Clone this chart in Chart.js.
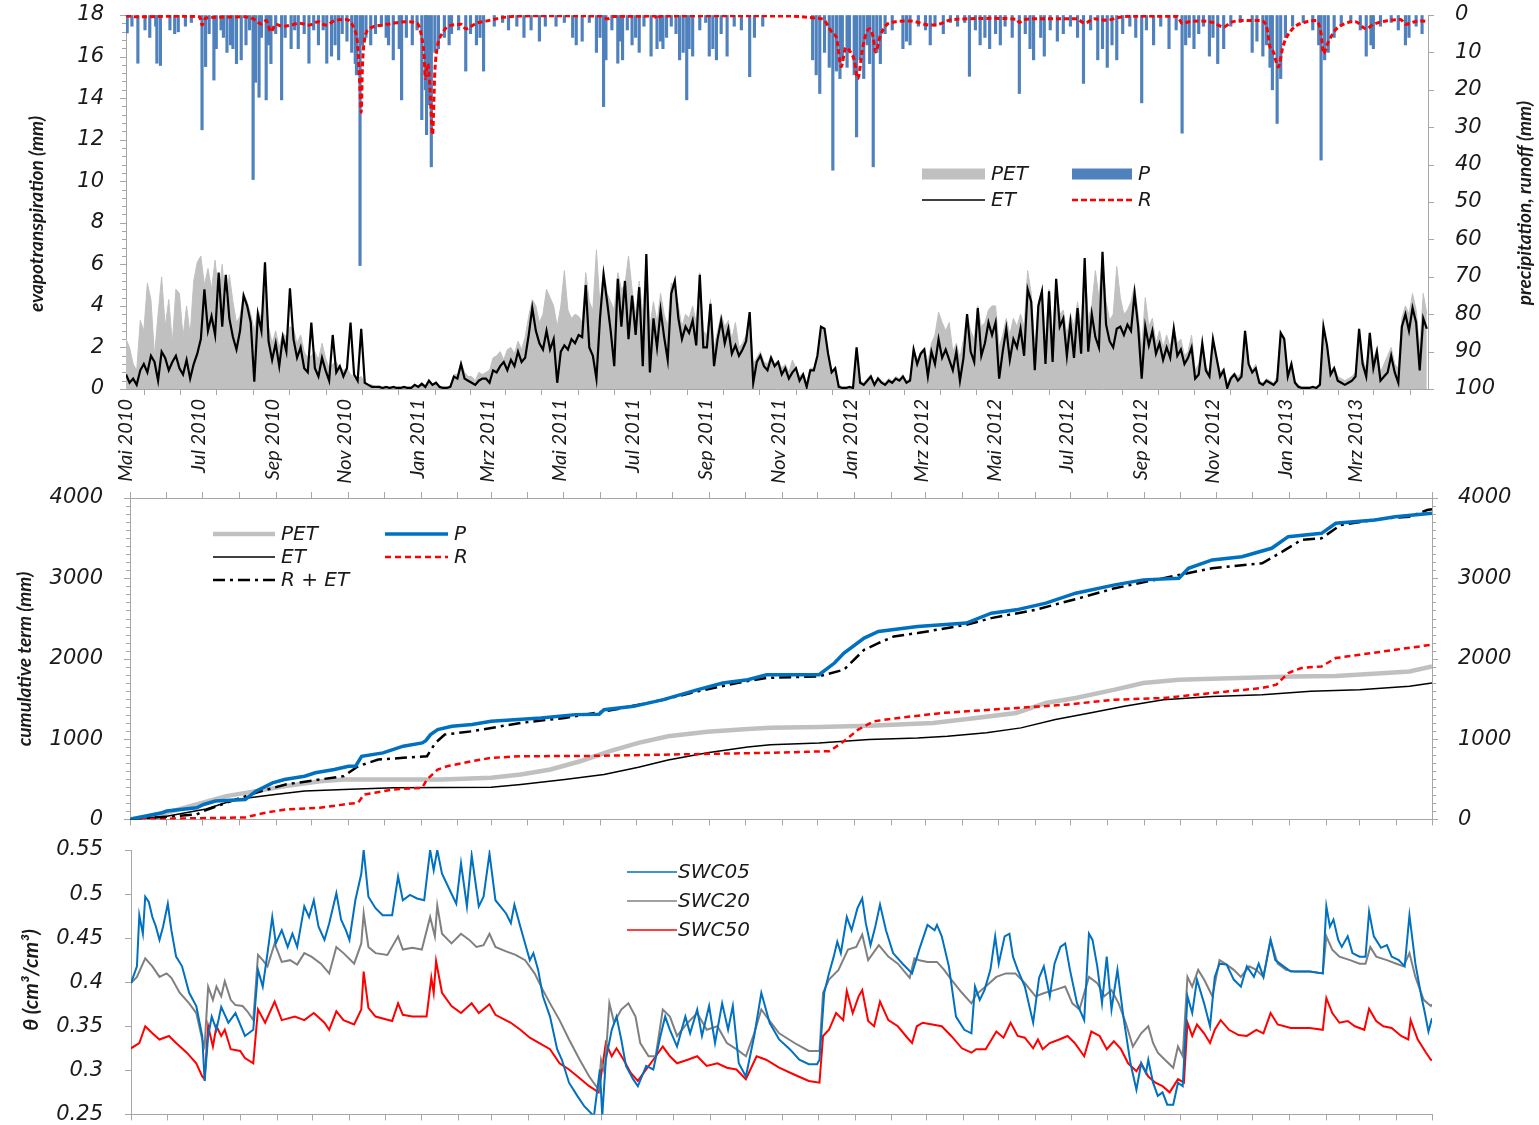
<!DOCTYPE html>
<html>
<head>
<meta charset="utf-8">
<title>Water balance 2010-2013</title>
<script src="https://cdn.jsdelivr.net/npm/chart.js@4.4.1/dist/chart.umd.min.js"></script>
<style>
  body { margin: 0; background: #fff; }
  #wrap { position: relative; width: 1539px; height: 1125px; overflow: hidden; }
  #wrap canvas { position: absolute; left: 0; }
</style>
</head>
<body>
<div id="wrap">
  <canvas id="c1" width="1539" height="490" style="top:0"></canvas>
  <canvas id="c2" width="1539" height="352" style="top:480px"></canvas>
  <canvas id="c3" width="1539" height="297" style="top:830px"></canvas>
</div>
<script>
// days counted from 1 May 2010
const monthDays = [0,31,61,92,123,153,184,214,245,276,304,335,365,396,426,457,488,518,549,579,
  610,641,670,701,731,762,792,823,854,884,915,945,976,1007,1035,1066,1096];
const monthLabels = ['Mai 2010','','Jul 2010','','Sep 2010','','Nov 2010','','Jan 2011','','Mrz 2011','',
  'Mai 2011','','Jul 2011','','Sep 2011','','Nov 2011','','Jan 2012','','Mrz 2012','',
  'Mai 2012','','Jul 2012','','Sep 2012','','Nov 2012','','Jan 2013','','Mrz 2013','',''];

// daily ET and PET (mm), one value every 3 days, one row per month
const etStep = 3;
const etMm = [
  0.7,0.3,0.5,0.2,0.9,1.2,0.8,1.6,1.3,0.4,
  1.8,1.5,0.9,1.3,1.6,1.0,0.7,1.4,0.5,1.2,
  1.7,2.4,4.8,2.8,3.5,2.6,5.6,3.0,5.5,3.4,2.5,
  1.9,2.8,4.5,4.0,3.2,0.35,3.6,2.8,6.1,2.3,
  1.4,2.2,1.1,2.5,1.8,4.85,2.4,1.5,2.0,1.0,
  0.8,3.2,1.0,0.6,1.5,0.9,0.4,2.6,0.8,1.1,
  0.6,1.0,3.2,0.7,0.4,2.9,0.3,0.2,0.1,0.1,
  0.1,0.05,0.1,0.05,0.1,0.05,0.05,0.1,0.05,0.05,0.2,
  0.1,0.25,0.1,0.4,0.2,0.3,0.1,0.05,0.05,0.1,
  0.6,0.5,1.2,0.5,0.4,0.3,0.2,0.4,0.5,
  0.5,0.3,0.9,0.8,1.1,1.3,0.9,1.4,1.1,1.8,1.3,
  1.5,2.6,3.9,2.8,2.2,1.9,2.8,1.9,2.4,0.3,
  1.8,2.1,1.9,2.4,2.2,2.6,2.5,5.0,2.0,1.6,
  0.5,3.4,5.5,4.2,2.8,1.1,5.3,3.0,5.2,2.4,
  4.5,2.6,4.9,1.1,6.5,0.8,3.4,2.0,3.8,2.5,1.4,
  4.6,5.2,3.4,2.4,3.0,2.7,3.3,2.1,5.5,2.0,
  2.0,4.1,1.1,2.4,3.3,2.2,2.9,1.7,2.1,1.6,
  1.9,2.3,3.7,0.3,1.3,1.6,1.1,0.9,1.5,1.1,
  1.3,0.7,1.0,0.5,0.8,1.0,0.4,0.7,0.1,0.9,
  0.9,1.6,3.0,2.9,1.7,0.8,1.0,0.1,0.05,0.05,0.1,
  0.05,2.0,0.3,0.2,0.4,0.6,0.2,0.5,0.3,0.2,
  0.4,0.3,0.5,0.4,0.6,0.3,0.4,1.9,1.2,1.7,
  1.9,0.6,1.8,1.2,2.4,1.5,1.9,1.4,0.9,1.8,
  0.4,1.5,3.6,1.8,1.3,3.9,1.6,2.2,3.2,2.6,
  3.2,0.5,1.8,2.9,1.4,2.4,2.0,2.9,1.6,4.8,
  4.2,0.9,4.0,4.7,1.2,4.7,1.3,5.3,3.0,3.4,
  1.6,3.2,1.5,3.9,1.7,6.3,1.8,3.6,2.5,2.0,6.6,
  3.1,2.3,2.0,2.9,3.0,2.6,3.1,2.8,4.6,3.0,
  0.5,3.0,2.1,2.8,1.7,2.2,1.4,2.0,1.5,2.9,
  1.6,1.9,1.2,1.5,2.0,0.5,0.7,2.2,0.9,0.6,
  2.4,1.5,0.6,0.9,0.05,0.5,0.7,0.4,0.6,2.8,
  1.2,0.8,1.0,0.3,0.2,0.4,0.3,0.2,0.4,2.7,2.4,
  0.6,1.2,0.3,0.1,0.05,0.05,0.05,0.1,0.05,0.2,
  3.0,2.1,0.7,1.0,0.4,0.3,0.2,0.3,0.4,
  0.6,2.9,1.2,0.6,2.7,1.0,1.8,0.4,0.6,0.8,1.6,
  0.8,0.3,3.0,3.6,2.8,3.9,3.2,0.9,3.4,2.9
];
const petMm = [
  2.4,2.0,1.2,0.9,3.3,2.8,5.1,4.3,1.6,3.6,
  5.4,3.0,4.3,2.2,4.8,4.6,2.5,4.0,2.6,5.2,
  6.1,6.4,5.0,5.8,4.8,6.2,4.5,6.0,3.9,5.5,4.2,
  3.2,3.5,4.6,4.2,3.6,2.8,3.8,3.4,4.8,3.0,
  2.2,2.8,2.0,2.7,2.5,3.0,2.9,2.2,2.6,1.8,
  1.5,1.6,1.8,1.4,2.2,1.5,1.0,1.2,1.3,1.0,
  0.9,1.0,0.7,0.6,0.5,0.6,0.3,0.2,0.2,0.1,
  0.15,0.1,0.1,0.1,0.1,0.1,0.1,0.1,0.1,0.1,0.2,
  0.15,0.3,0.15,0.45,0.25,0.35,0.15,0.1,0.1,0.15,
  0.7,0.7,1.3,0.8,0.6,0.6,0.4,0.8,0.7,
  0.8,0.9,1.5,1.6,1.8,1.4,1.9,2.0,1.7,2.3,1.9,
  2.5,3.5,4.3,4.0,3.2,3.6,4.8,4.4,4.0,3.0,
  4.0,5.7,3.8,3.4,3.6,3.5,3.2,5.6,4.2,3.8,
  6.7,4.0,5.8,4.6,4.2,3.8,5.6,4.8,5.0,6.4,
  4.8,3.6,5.2,3.6,6.3,3.0,4.2,3.2,4.6,3.6,3.0,
  5.1,5.0,4.0,3.0,3.6,3.4,4.0,3.2,5.6,2.8,
  2.6,4.3,2.0,2.8,3.6,3.0,3.3,2.4,3.2,2.0,
  2.2,2.6,3.7,1.2,1.5,1.8,1.3,1.2,1.6,1.2,
  1.4,1.0,1.2,0.8,1.4,1.0,0.6,0.8,0.3,1.0,
  1.0,1.6,3.0,2.9,1.7,0.9,1.0,0.2,0.1,0.1,0.1,
  0.1,2.0,0.4,0.3,0.5,0.7,0.3,0.6,0.4,0.3,
  0.5,0.4,0.6,0.5,0.7,0.4,0.5,2.0,1.4,1.8,
  2.0,1.3,2.2,2.6,3.7,3.2,2.8,3.2,1.8,2.2,
  1.5,2.4,3.6,2.8,2.4,4.0,3.0,3.2,3.8,4.0,
  4.0,2.0,2.6,3.4,2.6,3.4,3.0,3.6,3.0,5.7,
  4.6,2.0,4.2,4.8,2.4,4.8,2.6,5.3,3.6,3.8,
  2.6,3.6,3.0,4.2,3.0,6.0,3.4,4.0,5.7,4.4,6.4,
  4.2,3.3,3.6,5.9,4.4,3.6,3.8,4.2,5.0,3.6,
  2.0,4.4,3.0,3.4,2.2,2.8,2.0,2.6,2.0,3.0,
  2.2,2.4,1.6,1.8,2.6,0.9,1.2,2.3,1.1,0.8,
  2.4,1.6,0.8,1.0,0.3,0.6,0.8,0.6,0.8,2.8,
  1.3,0.9,1.2,0.4,0.3,0.5,0.4,0.3,0.6,2.7,2.5,
  0.7,1.3,0.4,0.2,0.1,0.1,0.1,0.1,0.1,0.3,
  3.0,2.2,0.8,1.1,0.6,0.5,0.4,0.5,0.6,
  0.8,2.9,1.4,1.0,2.7,1.4,2.0,0.8,1.2,1.6,2.0,
  1.2,1.0,3.4,4.0,3.6,4.6,3.8,2.0,4.6,3.6
];

// precipitation on rain days (day, mm)
const pDay = [1,5,10,16,20,25,26,29,37,41,44,50,55,64,67,70,74,76,80,82,
  85,88,90,93,97,101,104,107,109,112,114,118,120,122,126,131,134,139,142,145,
  150,154,158,162,166,169,173,176,179,182,186,190,193,194,197,199,202,206,210,215,
  219,221,225,230,232,236,241,245,249,252,253,255,257,260,263,268,272,274,280,286,
  290,295,298,301,310,317,322,329,335,341,348,353,362,369,376,379,384,390,396,399,
  402,404,409,414,416,418,422,426,429,432,436,442,447,450,452,455,459,463,466,469,
  472,474,477,483,488,491,494,497,501,506,512,518,525,529,536,578,581,584,588,592,
  595,598,601,603,607,609,613,615,618,621,624,626,629,632,635,639,645,654,657,660,
  667,673,677,681,688,694,700,706,710,715,719,723,727,732,736,740,746,752,757,761,
  764,770,773,778,784,789,795,801,806,812,818,822,826,830,834,839,845,850,855,859,
  865,871,878,884,889,892,895,899,903,907,912,915,919,924,930,938,948,952,957,960,
  963,965,969,972,976,982,991,999,1004,1006,1009,1012,1017,1023,1031,1039,1044,1048,1050,1056,
  1065,1071,1077,1080,1086,1091];
const pMm = [4.8,3,12.9,4,6,3,12.9,13.5,4,5,4.5,3,2,30.7,13.8,5,17.4,9,4,6,
  10,8,9,13,12,8,4,44,18,22,6,22.7,8,13,5,22.7,6,9,4,9,
  5,12.9,4,8,4,12.9,11,8,12,5,7,10,13,16,67,8,6,8,5,3,
  6,8,12,9,22.7,6,8,4,28,20,32,24,40.6,10,9,6,8,5,4,15,
  5,8,6,15,3,2,4,3,6,4,7,3,3,2,6,8,7,2,10,6,
  24.5,12,4,12.9,7,12,4,8,6,10,3,11,9,7,9,6,3,5,12,10,
  22.7,9,11,4,2,11,9,12,5,11,3,4,16.5,6,3,12,16,21,10,14,
  41.5,15,17,12,14,10,16,32.6,12,17,8,13,40.6,10,13,5,4,9,7,8,
  3,4,8,3,5,2,3,2,16.4,4,8,6,9,5,8,3,6,21,5,9,
  12,6,11,4,7,5,3,6,18.3,4,12,9,14,8,12,5,3,6,23.5,4,
  8,3,9,4,31.6,8,6,9,5,3,11,6,13,9,3,2,10,7,11,8,
  14,20,29,17,6,3,2,4,8,38.8,12,10,6,3,2,4,11,8,9,3,
  2,4,8,6,3,5];

// runoff (day, mm)
const rDay = [0,10,40,62,64,67,100,107,114,118,122,126,132,140,146,154,162,168,176,185,
  192,195,197,198,199,201,205,216,225,235,245,249,251,252,254,256,258,260,262,266,
  274,282,286,295,305,315,330,360,400,405,410,445,447,450,500,560,580,587,592,595,
  598,602,606,610,613,616,620,623,626,629,631,635,640,648,660,677,685,693,710,730,
  750,752,756,770,800,807,815,825,840,860,885,889,895,905,915,924,930,940,955,960,
  963,966,970,974,982,994,1002,1006,1008,1012,1018,1027,1035,1044,1050,1062,1073,1077,1085,1091,1096];
const rMm = [0.2,0.5,0.3,0.5,2.7,0.8,0.5,1.0,2.4,1.5,4.5,2.5,3.0,2.6,2.2,2.7,1.8,2.7,1.5,1.2,
  3.7,8,20,26,14,6.3,3.7,2.7,2.2,1.8,2.2,6,11,17,13,20,32,15,8.7,5,
  2.7,2.5,3.7,2.2,1.5,0.8,0.3,0.2,0.3,1.0,0.4,0.3,1.0,0.3,0.2,0.3,0.8,1.2,3.5,5,
  6,13.8,8.7,10,12,17,9,5,3.7,6,9.9,5.5,2.7,1.8,1.6,2.7,2.4,1.4,1.0,0.9,
  1.2,2,1.2,1.0,1.0,2.2,1.0,1.4,0.4,0.3,0.4,2.2,1.8,1.6,2.0,3.2,2.0,1.5,1.5,3,
  8.5,10,13.9,8.3,3.7,1.8,1.5,5,10.3,7.3,4,2.2,1.8,3.7,2.5,1.5,1.2,2.5,1.8,1.6,1.8];

// cumulative terms (mm)
const cumPetDay = [0,31,56,81,106,131,160,180,263,304,329,354,379,404,428,453,486,520,539,580,
  622,676,712,746,771,796,829,853,883,933,978,1015,1057,1077,1096];
const cumPet = [0,83,186,290,352,414,476,497,497,518,559,621,724,849,952,1035,1090,1125,1140,1150,
  1165,1201,1263,1325,1449,1511,1615,1698,1739,1760,1780,1785,1822,1842,1904];
const cumEtDay = [0,31,64,89,122,147,180,222,304,329,366,399,428,453,486,520,539,580,622,663,
  688,721,750,779,808,837,870,911,953,994,1035,1077,1096];
const cumEt = [0,40,130,248,310,352,373,393,400,435,497,560,650,740,830,900,930,952,994,1014,
  1035,1077,1139,1242,1325,1407,1490,1531,1552,1594,1615,1656,1698];
const cumPDay = [0,27,31,56,62,72,97,106,120,130,147,156,172,184,190,195,213,230,246,249,
  253,259,271,288,304,346,375,395,399,424,449,478,499,520,536,580,593,601,618,630,
  663,704,725,746,771,796,829,853,883,891,911,936,961,975,1003,1015,1048,1065,1096];
const cumP = [0,83,104,145,186,228,248,352,455,497,538,580,621,662,665,786,828,911,952,980,
  1056,1118,1159,1180,1221,1263,1304,1310,1366,1407,1490,1615,1698,1739,1801,1801,1946,2070,2257,2339,
  2401,2443,2567,2608,2691,2815,2919,2981,3002,3126,3229,3270,3374,3519,3560,3685,3726,3767,3809];
const cumRDay = [0,97,114,131,160,180,192,197,206,222,246,250,259,267,288,304,329,387,536,589,
  601,613,626,647,684,725,788,829,870,911,953,965,975,986,1003,1015,1035,1065,1096];
const cumR = [0,25,83,124,145,186,207,310,331,373,393,497,621,662,724,766,786,790,828,849,
  973,1118,1221,1263,1325,1366,1428,1490,1511,1573,1635,1677,1822,1884,1904,2008,2049,2111,2174];
const cumREtDay = [0,56,62,81,106,131,160,180,192,209,230,250,257,265,288,329,366,408,449,478,
  511,536,580,601,618,630,643,663,704,725,762,804,829,870,911,953,970,986,1003,1019,
  1057,1077,1092,1096];
const cumREt = [0,62,104,207,331,435,497,538,662,745,766,786,952,1056,1097,1201,1263,1366,1490,1594,
  1698,1760,1780,1863,2111,2194,2277,2319,2422,2505,2608,2773,2878,3002,3126,3188,3332,3478,3498,3664,
  3747,3767,3850,3860];

// soil water content (day, cm3/cm3) at 5, 20 and 50 cm
const swc05 = [[0,.399],[5,.418],[7,.476],[10,.455],[12,.497],[15,.491],[18,.474],[21,.463],[24,.448],[27,.463],
  [31,.489],[34,.459],[38,.429],[43,.418],[49,.388],[55,.373],[60,.339],[62,.288],[65,.339],[68,.361],
  [72,.346],[76,.372],[82,.354],[88,.365],[96,.339],[103,.346],[107,.414],[111,.395],[115,.433],[119,.474],
  [122,.444],[127,.459],[132,.44],[136,.455],[140,.44],[146,.486],[150,.474],[154,.493],[158,.463],[163,.448],
  [167,.467],[173,.501],[177,.471],[181,.459],[184,.448],[189,.493],[194,.523],[196,.55],[200,.497],[206,.484],
  [212,.476],[220,.476],[225,.52],[229,.493],[235,.499],[241,.495],[247,.493],[252,.55],[255,.527],[258,.55],
  [262,.523],[268,.506],[274,.489],[278,.535],[283,.486],[287,.544],[293,.486],[297,.497],[302,.546],[307,.493],
  [316,.478],[320,.467],[323,.488],[328,.463],[332,.444],[336,.425],[339,.433],[343,.414],[347,.384],[353,.361],
  [359,.324],[363,.312],[369,.286],[376,.271],[382,.259],[390,.248],[395,.301],[397,.248],[400,.312],[405,.346],
  [409,.361],[413,.335],[417,.305],[423,.29],[427,.282],[434,.305],[440,.301],[446,.339],[450,.361],[454,.346],
  [460,.327],[467,.361],[471,.342],[477,.369],[481,.339],[487,.373],[492,.331],[498,.376],[503,.346],[507,.373],
  [512,.308],[518,.293],[525,.339],[531,.388],[538,.354],[546,.335],[555,.324],[563,.312],[571,.307],[578,.307],
  [580,.312],[584,.388],[588,.41],[592,.429],[595,.446],[598,.433],[603,.474],[607,.459],[612,.484],[616,.495],
  [619,.467],[623,.442],[627,.463],[631,.488],[636,.459],[642,.433],[650,.421],[658,.41],[664,.437],[671,.465],
  [677,.459],[679,.465],[683,.452],[689,.418],[695,.361],[702,.346],[708,.342],[711,.395],[715,.38],[719,.391],
  [724,.414],[728,.452],[731,.421],[736,.452],[740,.455],[743,.429],[747,.414],[753,.395],[760,.354],[765,.405],
  [769,.418],[774,.384],[778,.421],[783,.44],[787,.444],[791,.414],[797,.376],[803,.357],[807,.455],[810,.448],
  [814,.418],[818,.376],[822,.429],[826,.369],[831,.414],[836,.361],[842,.308],[847,.278],[851,.308],[855,.297],
  [857,.312],[861,.286],[865,.271],[869,.275],[873,.261],[878,.261],[882,.286],[886,.282],[890,.384],[894,.365],
  [898,.403],[904,.376],[909,.35],[913,.406],[917,.421],[923,.42],[929,.403],[935,.395],[940,.418],[946,.406],
  [950,.421],[954,.406],[960,.448],[964,.425],[971,.418],[977,.412],[985,.412],[993,.412],[1004,.41],[1007,.486],
  [1010,.463],[1013,.471],[1017,.448],[1020,.44],[1025,.452],[1029,.433],[1035,.429],[1040,.429],[1043,.48],[1047,.452],
  [1053,.439],[1058,.442],[1062,.429],[1068,.425],[1073,.418],[1077,.476],[1082,.421],[1087,.384],[1090,.365],[1093,.344],
  [1096,.359]];
const swc20 = [[0,.399],[5,.406],[10,.421],[12,.427],[18,.418],[24,.406],[30,.41],[34,.405],[41,.388],[49,.376],
  [55,.365],[60,.335],[62,.327],[65,.395],[69,.38],[72,.395],[76,.384],[79,.401],[84,.38],[88,.374],
  [94,.373],[98,.367],[103,.357],[107,.431],[111,.425],[115,.418],[121,.444],[127,.423],[134,.425],[140,.42],
  [146,.433],[152,.429],[160,.421],[167,.41],[173,.44],[179,.433],[188,.421],[194,.444],[196,.478],[200,.44],
  [206,.433],[216,.431],[225,.452],[229,.437],[237,.439],[245,.437],[252,.474],[256,.452],[258,.487],[262,.455],
  [270,.444],[278,.455],[285,.448],[291,.44],[297,.442],[302,.455],[307,.44],[316,.435],[324,.431],[332,.425],
  [340,.41],[347,.391],[353,.376],[361,.357],[369,.335],[378,.312],[386,.293],[394,.278],[396,.312],[399,.297],
  [403,.376],[407,.354],[413,.369],[419,.376],[425,.361],[429,.331],[436,.316],[442,.316],[448,.369],[454,.361],
  [460,.339],[469,.354],[477,.365],[485,.346],[494,.35],[502,.331],[510,.324],[518,.316],[525,.342],[531,.369],
  [538,.356],[546,.342],[559,.331],[571,.322],[580,.322],[583,.388],[588,.403],[596,.414],[604,.437],[611,.44],
  [616,.454],[621,.425],[630,.442],[638,.429],[646,.421],[656,.405],[660,.427],[664,.425],[671,.423],[679,.423],
  [685,.414],[691,.403],[700,.388],[708,.376],[712,.386],[720,.395],[729,.406],[737,.41],[745,.41],[753,.399],
  [762,.384],[770,.388],[778,.391],[787,.395],[793,.376],[799,.369],[807,.406],[814,.399],[820,.384],[826,.391],
  [832,.376],[838,.354],[844,.327],[851,.342],[857,.35],[861,.331],[865,.32],[871,.312],[878,.303],[882,.327],
  [886,.316],[890,.406],[894,.395],[899,.414],[904,.403],[911,.384],[917,.425],[923,.42],[929,.414],[935,.406],
  [942,.418],[948,.414],[954,.406],[960,.448],[966,.421],[973,.414],[981,.412],[993,.412],[1004,.41],[1007,.452],
  [1012,.437],[1018,.429],[1027,.425],[1035,.421],[1040,.421],[1044,.44],[1049,.429],[1058,.425],[1066,.421],[1072,.418],
  [1077,.433],[1082,.406],[1089,.38],[1095,.373],[1096,.375]];
const swc50 = [[0,.325],[7,.331],[12,.35],[18,.342],[24,.335],[32,.339],[38,.331],[47,.32],[55,.308],[60,.293],
  [62,.29],[65,.35],[69,.327],[72,.35],[76,.339],[79,.346],[84,.324],[92,.322],[96,.314],[103,.308],
  [107,.369],[113,.354],[121,.378],[127,.357],[138,.361],[146,.357],[154,.365],[163,.354],[167,.346],[173,.367],
  [179,.357],[188,.352],[194,.369],[196,.412],[200,.371],[206,.361],[220,.356],[225,.376],[229,.363],[237,.361],
  [249,.361],[253,.405],[255,.388],[257,.424],[262,.388],[270,.373],[278,.365],[287,.376],[293,.365],[302,.375],
  [307,.363],[320,.354],[328,.346],[336,.337],[344,.331],[353,.324],[361,.308],[369,.301],[378,.291],[386,.282],
  [394,.275],[400,.331],[405,.316],[409,.325],[415,.312],[421,.297],[427,.288],[434,.301],[440,.312],[448,.327],
  [454,.316],[460,.308],[469,.312],[477,.316],[485,.305],[494,.308],[502,.303],[510,.301],[518,.29],[527,.316],
  [535,.312],[546,.303],[559,.295],[571,.288],[580,.286],[583,.339],[588,.346],[594,.365],[600,.357],[603,.39],
  [608,.365],[613,.384],[616,.391],[621,.356],[626,.35],[631,.378],[638,.357],[646,.35],[654,.337],[658,.331],
  [662,.35],[667,.354],[675,.352],[683,.35],[691,.339],[700,.325],[708,.32],[712,.324],[720,.324],[729,.344],
  [735,.337],[741,.354],[747,.339],[753,.337],[760,.325],[764,.335],[768,.324],[774,.331],[782,.335],[789,.339],
  [795,.331],[803,.316],[809,.344],[816,.339],[822,.324],[828,.333],[834,.324],[840,.308],[847,.299],[851,.308],
  [857,.293],[863,.286],[869,.282],[875,.275],[882,.29],[887,.286],[890,.354],[894,.339],[898,.352],[904,.342],
  [909,.331],[913,.346],[918,.357],[925,.346],[933,.34],[940,.339],[948,.346],[954,.342],[960,.365],[966,.352],
  [977,.348],[993,.348],[1004,.346],[1007,.382],[1012,.365],[1018,.354],[1025,.356],[1031,.35],[1039,.346],[1043,.37],
  [1049,.356],[1055,.35],[1062,.348],[1070,.339],[1076,.335],[1078,.357],[1084,.335],[1091,.32],[1095,.312],[1096,.312]];

const AXIS = '#a6a6a6';
const INK = '#1a1a1a';
const tickFont = { family: "'DejaVu Sans', sans-serif", size: 21, style: 'italic' };
const dateFont = { family: "Lato, sans-serif", size: 20, style: 'italic' };
const legendFont = "italic 20px 'DejaVu Sans', sans-serif";

Chart.defaults.color = INK;
Chart.defaults.font.family = "'DejaVu Sans', sans-serif";

const xy = (days, vals) => days.map((d, i) => ({ x: d, y: vals[i] }));
const pairs = arr => arr.map(p => ({ x: p[0], y: p[1] }));

// tick marks on the value axes, legend entries and axis titles
const decor = {
  id: 'decor',
  afterDraw(chart, args, o) {
    const ctx = chart.ctx;
    ctx.save();
    ctx.strokeStyle = AXIS;
    ctx.lineWidth = 1;
    const mark = (s, v, len) => {
      const left = s.position === 'left';
      const x0 = left ? s.right : s.left;
      const y = Math.round(s.getPixelForValue(v)) + 0.5;
      ctx.beginPath();
      ctx.moveTo(x0, y);
      ctx.lineTo(x0 + (left ? -len : len), y);
      ctx.stroke();
    };
    (o.axes || []).forEach(a => {
      const s = chart.scales[a.axis];
      s.ticks.forEach(t => mark(s, t.value, 6));
      if (a.minor) {
        const n = Math.round((s.max - s.min) / a.minor);
        for (let k = 0; k <= n; k++) mark(s, s.min + k * a.minor, 4);
      }
    });
    (o.legend || []).forEach(it => {
      if (it.box) {
        ctx.fillStyle = it.color;
        ctx.fillRect(it.x, it.y - it.box / 2, it.w, it.box);
      } else {
        ctx.strokeStyle = it.color;
        ctx.lineWidth = it.width;
        ctx.setLineDash(it.dash || []);
        ctx.beginPath();
        ctx.moveTo(it.x, it.y);
        ctx.lineTo(it.x + it.w, it.y);
        ctx.stroke();
        ctx.setLineDash([]);
      }
      ctx.fillStyle = INK;
      ctx.font = legendFont;
      ctx.textAlign = 'left';
      ctx.textBaseline = 'middle';
      ctx.fillText(it.text, it.x + it.w + (it.gap || 6), it.y + 1);
    });
    (o.titles || []).forEach(t => {
      ctx.save();
      ctx.translate(t.x, t.y);
      ctx.rotate(-Math.PI / 2);
      ctx.font = t.font;
      ctx.fillStyle = INK;
      ctx.textAlign = 'center';
      ctx.textBaseline = 'middle';
      ctx.fillText(t.text, 0, 0);
      ctx.restore();
    });
    ctx.restore();
  }
};

function monthAxis(position, showLabels, height) {
  return {
    type: 'linear', position: position, min: 0, max: 1096, offset: false,
    afterBuildTicks: s => { s.ticks = monthDays.map(v => ({ value: v })); },
    afterFit: s => { s.height = height; },
    grid: { display: true, drawOnChartArea: false, drawTicks: true, tickLength: 6, color: AXIS },
    border: { display: true, color: AXIS, width: 1 },
    ticks: {
      display: showLabels, autoSkip: false, maxRotation: 90, minRotation: 90,
      font: dateFont, padding: 4, color: INK,
      callback: (v, i) => monthLabels[i]
    }
  };
}

// the label gap is held by an invisible tick so the plot area keeps its height
function valueAxis(position, min, max, step, width, gap, extra) {
  return Object.assign({
    type: 'linear', position: position, min: min, max: max,
    afterFit: s => { s.width = width; },
    grid: { display: true, drawOnChartArea: false, drawTicks: true, tickLength: gap, tickColor: 'rgba(0,0,0,0)' },
    border: { display: true, color: AXIS, width: 1 },
    ticks: { stepSize: step, font: tickFont, padding: 0, color: INK, callback: v => String(+v.toFixed(2)) }
  }, extra || {});
}

const common = {
  responsive: false,
  animation: false,
  events: [],
  plugins: { legend: { display: false }, tooltip: { enabled: false } }
};

// daily balance: ET / PET on the left, precipitation and runoff hanging from the top
new Chart(document.getElementById('c1'), {
  type: 'line',
  data: {
    datasets: [
      { label: 'P', type: 'bar', yAxisID: 'yP', data: xy(pDay, pMm),
        backgroundColor: '#4f81bd', barThickness: 2.5, order: 4 },
      { label: 'R', yAxisID: 'yP', data: xy(rDay, rMm), borderColor: '#ff0000', borderWidth: 3,
        borderDash: [5, 3], pointRadius: 0, cubicInterpolationMode: 'monotone', order: 1 },
      { label: 'PET', yAxisID: 'y', data: petMm.map((v, i) => ({ x: i * etStep, y: v })),
        borderColor: '#c0c0c0', backgroundColor: '#c0c0c0', borderWidth: 1, fill: 'origin',
        pointRadius: 0, order: 3 },
      { label: 'ET', yAxisID: 'y', data: etMm.map((v, i) => ({ x: i * etStep, y: v })),
        borderColor: '#000', borderWidth: 2.2, pointRadius: 0, order: 2 }
    ]
  },
  options: Object.assign({}, common, {
    layout: { padding: { top: 15, left: 0, right: 0, bottom: 0 } },
    plugins: Object.assign({}, common.plugins, {
      decor: {
        axes: [{ axis: 'y', minor: 0.4 }, { axis: 'yP' }],
        legend: [
          { text: 'PET', color: '#c0c0c0', x: 922, y: 174, w: 63, box: 11 },
          { text: 'P', color: '#4f81bd', x: 1072, y: 174, w: 60, box: 11 },
          { text: 'ET', color: '#000', x: 922, y: 200, w: 63, width: 1.5 },
          { text: 'R', color: '#ff0000', x: 1072, y: 200, w: 60, width: 2.5, dash: [6, 3] }
        ],
        titles: [
          { text: 'evapotranspiration (mm)', x: 37, y: 214, font: "italic bold 19px Lato, sans-serif" },
          { text: 'precipitation, runoff (mm)', x: 1525, y: 203, font: "italic bold 19px Lato, sans-serif" }
        ]
      }
    }),
    scales: {
      x: monthAxis('bottom', true, 101),
      y: valueAxis('left', 0, 18, 2, 126, 22),
      yP: valueAxis('right', 0, 100, 10, 111, 27, { reverse: true })
    }
  }),
  plugins: [decor]
});

// cumulative terms
new Chart(document.getElementById('c2'), {
  type: 'line',
  data: {
    datasets: [
      { label: 'PET', data: xy(cumPetDay, cumPet), borderColor: '#c0c0c0', borderWidth: 4.5, pointRadius: 0, order: 5 },
      { label: 'ET', data: xy(cumEtDay, cumEt), borderColor: '#000', borderWidth: 1.5, pointRadius: 0, order: 4 },
      { label: 'R', data: xy(cumRDay, cumR), borderColor: '#ff0000', borderWidth: 2.5, borderDash: [6, 4],
        pointRadius: 0, order: 3 },
      { label: 'R + ET', data: xy(cumREtDay, cumREt), borderColor: '#000', borderWidth: 2.5,
        borderDash: [12, 5, 3, 5], pointRadius: 0, order: 2 },
      { label: 'P', data: xy(cumPDay, cumP), borderColor: '#0070c0', borderWidth: 3.5, pointRadius: 0, order: 1 }
    ]
  },
  options: Object.assign({}, common, {
    layout: { padding: 0 },
    plugins: Object.assign({}, common.plugins, {
      decor: {
        axes: [{ axis: 'y', minor: 100 }, { axis: 'y2', minor: 100 }],
        legend: [
          { text: 'PET', color: '#c0c0c0', x: 213, y: 54, w: 62, width: 4.5 },
          { text: 'P', color: '#0070c0', x: 385, y: 54, w: 63, width: 3.5 },
          { text: 'ET', color: '#000', x: 213, y: 77, w: 62, width: 1.5 },
          { text: 'R', color: '#ff0000', x: 385, y: 77, w: 63, width: 2.5, dash: [6, 4] },
          { text: 'R + ET', color: '#000', x: 213, y: 100, w: 62, width: 2.5, dash: [12, 5, 3, 5] }
        ],
        titles: [
          { text: 'cumulative term (mm)', x: 25, y: 179, font: "italic bold 19px Lato, sans-serif" }
        ]
      }
    }),
    scales: {
      x: monthAxis('bottom', false, 12),
      xTop: monthAxis('top', false, 18),
      y: valueAxis('left', 0, 4000, 1000, 130, 27),
      y2: valueAxis('right', 0, 4000, 1000, 107, 26)
    }
  }),
  plugins: [decor]
});

// soil water content
new Chart(document.getElementById('c3'), {
  type: 'line',
  data: {
    datasets: [
      { label: 'SWC05', data: pairs(swc05), borderColor: '#0070c0', borderWidth: 2, pointRadius: 0, order: 1 },
      { label: 'SWC20', data: pairs(swc20), borderColor: '#808080', borderWidth: 2, pointRadius: 0, order: 2 },
      { label: 'SWC50', data: pairs(swc50), borderColor: '#ff0000', borderWidth: 2, pointRadius: 0, order: 3 }
    ]
  },
  options: Object.assign({}, common, {
    layout: { padding: { top: 20, right: 107, left: 0, bottom: 0 } },
    plugins: Object.assign({}, common.plugins, {
      decor: {
        axes: [{ axis: 'y' }],
        legend: [
          { text: 'SWC05', color: '#0070c0', x: 627, y: 42, w: 50, width: 1.5, gap: 1 },
          { text: 'SWC20', color: '#808080', x: 627, y: 71, w: 50, width: 1.5, gap: 1 },
          { text: 'SWC50', color: '#ff0000', x: 627, y: 100, w: 50, width: 1.5, gap: 1 }
        ],
        titles: [
          { text: 'θ (cm³/cm³)', x: 31, y: 150, font: "italic bold 21px Lato, sans-serif" }
        ]
      }
    }),
    scales: {
      x: monthAxis('bottom', false, 12),
      y: valueAxis('left', 0.25, 0.55, 0.05, 131, 28)
    }
  }),
  plugins: [decor]
});
</script>
</body>
</html>
